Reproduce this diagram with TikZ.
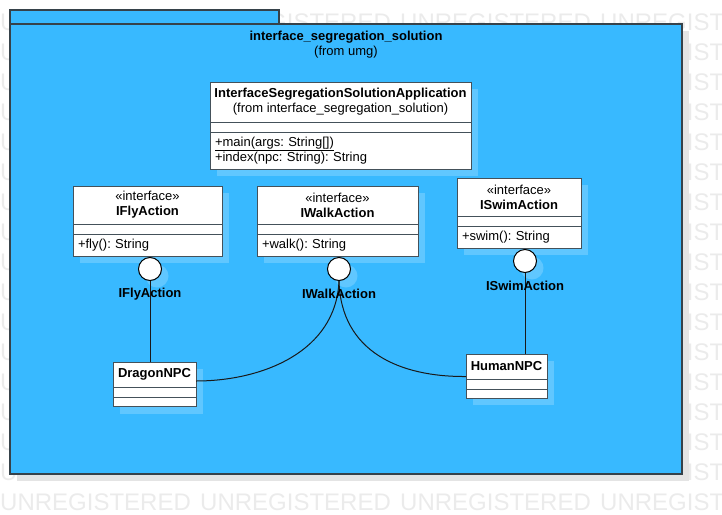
\documentclass[tikz,border=0pt]{standalone}
\usepackage{fontspec}
\setmainfont{Liberation Sans}
\usetikzlibrary{positioning, shadows}
\frenchspacing

\definecolor{pkgblue}{HTML}{38B9FF}
\colorlet{shadeblue}{pkgblue!80!white}
\definecolor{boxline}{HTML}{44515A}
\definecolor{pkgline}{HTML}{36424A}
\definecolor{wmgray}{HTML}{EBEBEB}
\definecolor{pkgshade}{HTML}{E4E4E4}
\newcommand{\umlfont}{\fontsize{13}{15}\selectfont}
\newcommand{\wmfont}{\fontsize{24}{26}\selectfont}

\begin{document}
\begin{tikzpicture}[x=1pt, y=-1pt,
  wmark/.style={anchor=west, inner sep=0pt, text=wmgray, font=\wmfont},
  pkgtab/.style={draw=pkgline, fill=pkgblue, line width=1.2pt, anchor=north west,
                 inner sep=0pt, outer sep=0pt},
  pkgbody/.style={pkgtab, drop shadow={shadow xshift=7pt, shadow yshift=-7pt,
                  fill=pkgshade, opacity=1}},
  shd/.style={drop shadow={shadow xshift=7pt, shadow yshift=-7pt, fill=shadeblue, opacity=1}},
  cname/.style={draw=boxline, fill=white, line width=1pt, anchor=north west, inner sep=0pt,
                outer sep=0pt, align=center, font=\umlfont, shd},
  cops/.style={cname, align=left, inner xsep=5pt},
  ball/.style={circle, draw=black, fill=white, line width=1pt, minimum size=23pt,
               inner sep=0pt, shd},
  blbl/.style={font=\umlfont\bfseries, inner sep=0pt},
  link/.style={draw=black!90, line width=1pt},
]

\useasboundingbox (0,0) rectangle (722,514);

% --- Watermark ---
\foreach \r in {0,...,16}
  \foreach \c in {0,...,3}
    \node[wmark] (wm\r-\c) at (200*\c, 22+30*\r) {UNREGISTERED};

% --- Package ---
\node[pkgtab, minimum width=269pt, minimum height=14pt] (pkgtab) at (10,10) {};
\node[pkgbody, minimum width=672pt, minimum height=450pt] (pkg) at (10,24) {};
\node[font=\umlfont, align=center, inner sep=0pt] (pkgtitle) at (346,44.5)
  {\textbf{interface\_segregation\_solution}\\(from umg)};

% --- Application class ---
\node[cname, minimum width=261pt, minimum height=40pt] (app) at (210,82)
  {\textbf{InterfaceSegregationSolutionApplication}\\(from interface\_segregation\_solution)};
\node[cname, below=0pt of app, minimum width=261pt, minimum height=10pt] (appattr) {};
\node[cops, below=0pt of appattr, text width=251pt, minimum height=37pt] (appops)
  {\underline{+main(args: String[])}\\+index(npc: String): String};

% --- Interfaces ---
\node[cname, minimum width=149pt, minimum height=38pt] (fly) at (73,186)
  {«interface»\\\textbf{IFlyAction}};
\node[cname, below=0pt of fly, minimum width=149pt, minimum height=10.5pt] (flyattr) {};
\node[cops, below=0pt of flyattr, text width=139pt, minimum height=21.5pt] (flyops)
  {+fly(): String};

\node[cname, minimum width=161pt, minimum height=38pt] (walk) at (257,186)
  {«interface»\\\textbf{IWalkAction}};
\node[cname, below=0pt of walk, minimum width=161pt, minimum height=10.5pt] (walkattr) {};
\node[cops, below=0pt of walkattr, text width=151pt, minimum height=21.5pt] (walkops)
  {+walk(): String};

\node[cname, minimum width=124pt, minimum height=38pt] (swim) at (457,178)
  {«interface»\\\textbf{ISwimAction}};
\node[cname, below=0pt of swim, minimum width=124pt, minimum height=10pt] (swimattr) {};
\node[cops, below=0pt of swimattr, text width=114pt, minimum height=22pt] (swimops)
  {+swim(): String};

% --- Provided interface balls ---
\node[ball] (flyball) at (150,269) {};
\node[ball] (walkball) at (339,269) {};
\node[ball] (swimball) at (525,261) {};

% --- Realizing classes ---
\node[cname, minimum width=83pt, minimum height=25pt] (dragon) at (113,362)
  {\textbf{DragonNPC}};
\node[cname, below=0pt of dragon, minimum width=83pt, minimum height=10pt] (dragonattr) {};
\node[cname, below=0pt of dragonattr, minimum width=83pt, minimum height=9.5pt] (dragonops) {};

\node[cname, minimum width=81pt, minimum height=25pt] (human) at (466,354)
  {\textbf{HumanNPC}};
\node[cname, below=0pt of human, minimum width=81pt, minimum height=10pt] (humanattr) {};
\node[cname, below=0pt of humanattr, minimum width=81pt, minimum height=9pt] (humanops) {};

% --- Links ---
\draw[link] (flyball) -- (flyball |- dragon.north);
\draw[link] (swimball) -- (swimball |- human.north);
\draw[link] (walkball.south) .. controls (336,352) and (262,381) .. ([yshift=-6.5pt]dragon.east);
\draw[link] (walkball.south) .. controls (341,352) and (400,377) .. ([yshift=-10pt]human.west);

% --- Ball labels ---
\node[blbl] (flylbl) at (150,294) {IFlyAction};
\node[blbl] (walklbl) at (339,294) {IWalkAction};
\node[blbl] (swimlbl) at (525,286) {ISwimAction};

\end{tikzpicture}
\end{document}
